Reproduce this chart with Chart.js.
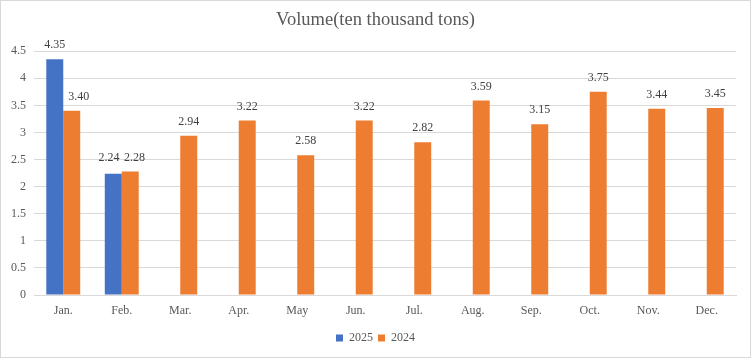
<!DOCTYPE html>
<html>
<head>
<meta charset="utf-8">
<script src="https://cdn.jsdelivr.net/npm/chart.js@4/dist/chart.umd.min.js"></script>
<style>
  html, body { margin: 0; padding: 0; background: #fff; }
  #wrap { width: 751px; height: 358px; box-sizing: border-box; border: 1px solid #d9d9d9; position: relative; }
  #c { display: block; }
</style>
</head>
<body>
<div id="wrap"><canvas id="c" width="749" height="356"></canvas></div>
<script>
const months = ['Jan.', 'Feb.', 'Mar.', 'Apr.', 'May', 'Jun.', 'Jul.', 'Aug.', 'Sep.', 'Oct.', 'Nov.', 'Dec.'];
const volume2025 = [4.35, 2.24, null, null, null, null, null, null, null, null, null, null];
const volume2024 = [3.40, 2.28, 2.94, 3.22, 2.58, 3.22, 2.82, 3.59, 3.15, 3.75, 3.44, 3.45];
const chartTitle = 'Volume(ten thousand tons)';
const seriesNames = ['2025', '2024'];

const serif = "'Times New Roman', 'Liberation Serif', serif";
const textColor = '#595959';
const gridColor = '#d9d9d9';

// Data labels above bars, nudged apart sideways when they would collide (like Excel)
const dataLabels = {
  id: 'dataLabels',
  afterDatasetsDraw(chart) {
    const ctx = chart.ctx;
    ctx.save();
    ctx.font = '12px ' + serif;
    ctx.fillStyle = '#404040';
    ctx.textAlign = 'center';
    ctx.textBaseline = 'middle';
    const metaA = chart.getDatasetMeta(0), metaB = chart.getDatasetMeta(1);
    const dsA = chart.data.datasets[0].data, dsB = chart.data.datasets[1].data;
    const off = 14, lh = 14;
    chart.data.labels.forEach((_, i) => {
      const items = [];
      if (dsA[i] !== null && dsA[i] !== undefined) {
        const b = metaA.data[i];
        items.push({ t: dsA[i].toFixed(2), x: b.x, y: b.y - off, bar: b });
      }
      if (dsB[i] !== null && dsB[i] !== undefined) {
        const b = metaB.data[i];
        items.push({ t: dsB[i].toFixed(2), x: b.x, y: b.y - off, bar: b });
      }
      items.forEach(it => { it.w = ctx.measureText(it.t).width; });
      if (items.length === 2) {
        const [a, b] = items;
        if (Math.abs(a.y - b.y) < lh) {
          // labels collide vertically: align and push apart
          const y = Math.min(a.y, b.y);
          a.y = y; b.y = y;
          const need = (a.w + b.w) / 2 + 4.5;
          const d = b.x - a.x;
          if (d < need) { const s = (need - d) / 2; a.x -= s; b.x += s; }
        } else if (b.y > a.y) {
          // right label sits beside the taller left bar: move it clear of the bar
          const barRight = a.bar.x + a.bar.width / 2;
          const minLeft = barRight + 5;
          if (b.x - b.w / 2 < minLeft) b.x = minLeft + b.w / 2;
        } else {
          const barLeft = b.bar.x - b.bar.width / 2;
          const maxRight = barLeft - 5;
          if (a.x + a.w / 2 > maxRight) a.x = maxRight - a.w / 2;
        }
      }
      items.forEach(it => ctx.fillText(it.t, it.x, it.y));
    });
    ctx.restore();
  }
};

new Chart(document.getElementById('c'), {
  type: 'bar',
  data: {
    labels: months,
    datasets: [
      { label: seriesNames[0], data: volume2025, backgroundColor: '#4472C4', borderWidth: 0 },
      { label: seriesNames[1], data: volume2024, backgroundColor: '#ED7D31', borderWidth: 0 }
    ]
  },
  options: {
    responsive: false,
    animation: false,
    devicePixelRatio: 1,
    layout: { padding: { left: 0, right: 0, top: 0, bottom: 3 } },
    datasets: { bar: { categoryPercentage: 0.58, barPercentage: 1.0 } },
    plugins: {
      title: {
        display: true,
        text: chartTitle,
        color: textColor,
        font: { family: serif, size: 18.5, weight: 'normal' },
        padding: { top: 8, bottom: 20 }
      },
      legend: {
        display: true,
        position: 'bottom',
        labels: {
          color: textColor,
          font: { family: serif, size: 12 },
          boxWidth: 7,
          boxHeight: 7,
          padding: 5
        }
      },
      tooltip: { enabled: false }
    },
    scales: {
      x: {
        grid: { display: false, drawTicks: false },
        border: { display: true, color: gridColor, width: 1 },
        ticks: { color: textColor, font: { family: serif, size: 12 }, padding: 9, maxRotation: 0 },
        afterFit(scale) { scale.height = 32; }
      },
      y: {
        min: 0,
        max: 4.5,
        grid: { color: gridColor, drawTicks: false },
        border: { display: false },
        ticks: {
          stepSize: 0.5,
          color: textColor,
          font: { family: serif, size: 12 },
          padding: 8,
          callback: v => Number(v.toFixed(1)).toString()
        },
        afterFit(scale) { scale.width = 33; }
      },
      yRight: {
        position: 'right',
        display: true,
        grid: { display: false, drawTicks: false },
        border: { display: false },
        ticks: { display: false },
        afterFit(scale) { scale.width = 14; }
      }
    }
  },
  plugins: [dataLabels]
});
</script>
</body>
</html>
